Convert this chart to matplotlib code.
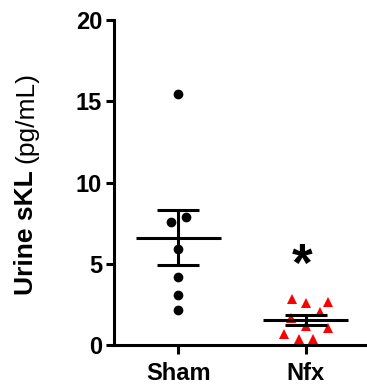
import numpy as np
import matplotlib
matplotlib.use("Agg")
import matplotlib.pyplot as plt

plt.rcParams['font.family'] = ['Liberation Sans', 'DejaVu Sans']

categories = ["Sham", "Nfx"]
sham_values = [15.45, 7.9, 7.59, 5.9, 4.17, 3.06, 2.15]
nfx_values = [2.83, 2.56, 2.63, 2.05, 1.68, 1.19, 1.03, 0.66, 0.35, 0.35]
y_ticks = [0, 5, 10, 15, 20]
significance = "*"
sig_y = 3.95

# horizontal scatter offsets (layout only)
sham_jitter = [0, 0.058, -0.057, 0, 0, 0, 0]
nfx_jitter = [-0.112, 0, 0.173, 0.115, -0.115, 0, 0.173, -0.173, -0.053, 0.057]

fig = plt.figure(figsize=(3.67, 3.89), dpi=100)
ax = fig.add_axes([114/367, 44/389, 253/367, 325/389])

groups = [sham_values, nfx_values]
jitters = [sham_jitter, nfx_jitter]
styles = [dict(marker='o', color='black', ms=7),
          dict(marker='^', color='#ff0000', ms=7.4)]

for i, (vals, jit, st) in enumerate(zip(groups, jitters, styles)):
    vals = np.asarray(vals)
    xs = i + np.asarray(jit)
    ax.plot(xs, vals, linestyle='none', marker=st['marker'], color=st['color'],
            markersize=st['ms'], markeredgewidth=0, zorder=2, clip_on=False)
    m = vals.mean()
    sem = vals.std(ddof=1) / np.sqrt(len(vals))
    lw = 2.2
    ax.plot([i - 0.333, i + 0.333], [m, m], color='black', lw=lw, zorder=3,
            solid_capstyle='butt')
    ax.plot([i - 0.165, i + 0.165], [m + sem, m + sem], color='black', lw=lw,
            zorder=3, solid_capstyle='butt')
    ax.plot([i - 0.165, i + 0.165], [m - sem, m - sem], color='black', lw=lw,
            zorder=3, solid_capstyle='butt')
    ax.plot([i, i], [m - sem, m + sem], color='black', lw=lw, zorder=3,
            solid_capstyle='butt')

ax.text(0.969, sig_y, significance, ha='center', va='baseline', fontsize=38,
        fontweight='bold', color='black')

ax.set_xlim(-0.505, 1.48)
ax.set_ylim(0, 20)
ax.set_yticks(y_ticks)
ax.set_yticklabels([str(t) for t in y_ticks], fontsize=17, fontweight='bold')
ax.set_xticks([0, 1])
ax.set_xticklabels(categories, fontsize=17, fontweight='bold')

for s in ['top', 'right']:
    ax.spines[s].set_visible(False)
for s in ['left', 'bottom']:
    ax.spines[s].set_linewidth(2.2)
ax.tick_params(axis='y', length=6, width=2.2, pad=2.5)
ax.tick_params(axis='x', length=6.5, width=2.2, pad=6)

fig.text(33/367, 1 - 170/389, "Urine sKL", rotation=90, rotation_mode='anchor',
         ha='right', va='baseline', fontsize=19, fontweight='bold')
fig.text(33/367, 1 - 163/389, "(pg/mL)", rotation=90, rotation_mode='anchor',
         ha='left', va='baseline', fontsize=19, fontweight='normal')

fig.savefig("out.png", dpi=100)
